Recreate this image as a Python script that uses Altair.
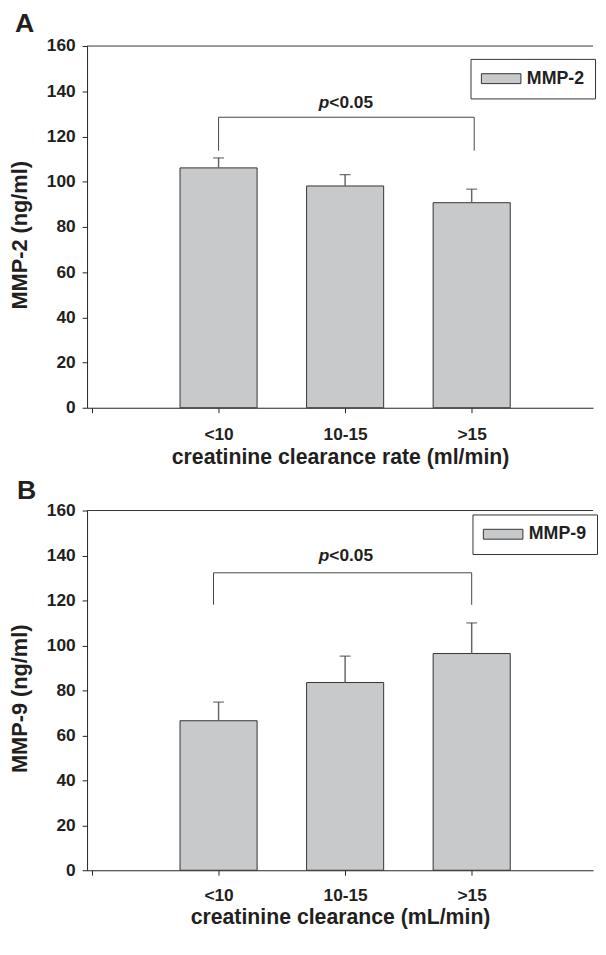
import altair as alt
import pandas as pd

# ---- data ----
categories = ["<10", "10-15", ">15"]
cat_pos = [1, 2, 3]

mmp2_mean = [106.1, 98.1, 90.7]
mmp2_err = [4.4, 5.0, 6.0]

mmp9_mean = [66.5, 83.5, 96.4]
mmp9_err = [8.3, 11.7, 13.6]

y_ticks = [0, 20, 40, 60, 80, 100, 120, 140, 160]
x_ticks = [0, 1, 2, 3]

# significance brackets: [left x, right x, top y, leg bottom y]
bracket_a = [1.0, 3.02, 128.5, 113.7]
bracket_b = [0.96, 3.0, 132.3, 118.1]
p_label_y = [134.8, 139.6]

FONT = "Liberation Sans"
TXT = "#231f20"

label_expr = " : ".join(
    [f"datum.value == {p} ? '{c}'" for p, c in zip(cat_pos, categories)]
) + " : ''"


def X(field, title, lpad, tpad):
    return alt.X(
        field,
        type="quantitative",
        scale=alt.Scale(domain=[0, 3.92], nice=False, zero=False),
        axis=alt.Axis(
            values=x_ticks, labelExpr=label_expr, title=title, grid=False,
            tickSize=5, labelPadding=lpad, titlePadding=tpad,
            labelFontSize=17.5, labelFontWeight="bold", labelFont=FONT,
            titleFontSize=21.5, titleFontWeight="bold", titleFont=FONT,
            labelColor=TXT, titleColor=TXT, domainColor="#222", tickColor="#222",
            labelFlush=False,
        ),
    )


def Y(field, title, height):
    return alt.Y(
        field,
        type="quantitative",
        scale=alt.Scale(domain=[0, 160], nice=False),
        axis=alt.Axis(
            values=y_ticks, title=title, grid=False,
            tickSize=5, labelPadding=7, titlePadding=15, titleY=height / 2 + 8,
            labelFontSize=17.5, labelFontWeight="bold", labelFont=FONT,
            titleFontSize=22, titleFontWeight="bold", titleFont=FONT,
            labelColor=TXT, titleColor=TXT, domainColor="#222", tickColor="#222",
        ),
    )


def panel(letter, series, means, errs, ytitle, xtitle, br, py, height,
          leg_x, leg_y, letter_x, letter_y, lpad, tpad):
    xe = lambda f: X(f, xtitle, lpad, tpad)
    ye = lambda f: Y(f, ytitle, height)
    df = pd.DataFrame({
        "pos": cat_pos,
        "cat": categories,
        "mean": means,
        "top": [m + e for m, e in zip(means, errs)],
        "series": [series] * len(categories),
    })
    bars = alt.Chart(df).mark_bar(size=78, stroke="#333", strokeWidth=1).encode(
        x=xe("pos"),
        y=ye("mean"),
        color=alt.Color(
            "series:N",
            scale=alt.Scale(range=["#c8c9cb"]),
            legend=alt.Legend(
                title=None, orient="none", legendX=leg_x, legendY=leg_y,
                strokeColor="#333", fillColor="white", padding=11,
                # wide swatch drawn right of the symbol anchor
                symbolType="M-1.8,-1H6.2V1H-1.8Z", symbolSize=100,
                symbolStrokeColor="#333", symbolStrokeWidth=1, symbolOpacity=1,
                labelFontSize=18, labelFontWeight="bold", labelFont=FONT,
                labelColor=TXT, labelOffset=28, labelLimit=200,
            ),
        ),
    )
    err = alt.Chart(df).mark_rule(color="#666", strokeWidth=1.5).encode(
        x=xe("pos"), y=ye("mean"), y2="top:Q"
    )
    cap = alt.Chart(df).mark_tick(
        orient="horizontal", size=11, thickness=1.2, color="#333"
    ).encode(x=xe("pos"), y=ye("top"))

    frame = alt.Chart(pd.DataFrame({"ymax": [160]})).mark_rule(
        color="#333", strokeWidth=1
    ).encode(y=ye("ymax"))

    bdf = pd.DataFrame({"x1": [br[0]], "x2": [br[1]], "top": [br[2]]})
    bar_h = alt.Chart(bdf).mark_rule(color="#444", strokeWidth=1).encode(
        x=xe("x1"), x2="x2:Q", y=ye("top")
    )
    ldf = pd.DataFrame({"x": [br[0], br[1]], "bottom": [br[3]] * 2, "top": [br[2]] * 2})
    legs = alt.Chart(ldf).mark_rule(color="#444", strokeWidth=1).encode(
        x=xe("x"), y=ye("bottom"), y2="top:Q"
    )
    pdf = pd.DataFrame({"x": [2], "y": [py], "p": ["p"], "rest": ["<0.05"]})
    p_it = alt.Chart(pdf).mark_text(
        font=FONT, fontSize=17.5, fontWeight="bold", fontStyle="italic",
        align="right", baseline="middle", dx=-16, color=TXT,
    ).encode(x=xe("x"), y=ye("y"), text="p:N")
    p_rest = alt.Chart(pdf).mark_text(
        font=FONT, fontSize=17.5, fontWeight="bold",
        align="left", baseline="middle", dx=-16, color=TXT,
    ).encode(x=xe("x"), y=ye("y"), text="rest:N")

    # panel letter (A / B) placed above the top-left corner of the panel
    lab = alt.Chart(pd.DataFrame({"t": [letter]})).mark_text(
        font=FONT, fontSize=27, fontWeight="bold", color=TXT,
        align="left", baseline="alphabetic",
    ).encode(x=alt.value(letter_x), y=alt.value(letter_y), text="t:N")

    return alt.layer(bars, err, cap, frame, bar_h, legs, p_it, p_rest, lab).properties(
        width=512, height=height,
    )


panel_a = panel("A", "MMP-2", mmp2_mean, mmp2_err, "MMP-2 (ng/ml)",
                "creatinine clearance rate (ml/min)", bracket_a, p_label_y[0], 366,
                388, 13, -73, -14, 13, 4)
panel_b = panel("B", "MMP-9", mmp9_mean, mmp9_err, "MMP-9 (ng/ml)",
                "creatinine clearance (mL/min)", bracket_b, p_label_y[1], 364,
                390, 4, -71, -12, 12, 2)

chart = alt.vconcat(panel_a, panel_b, spacing=9).resolve_scale(color="independent").properties(
    padding={"left": 0, "top": -3, "right": 0, "bottom": 0}
).configure_view(stroke=None)

chart.save("out.html", embed_options={"renderer": "svg", "actions": False})
